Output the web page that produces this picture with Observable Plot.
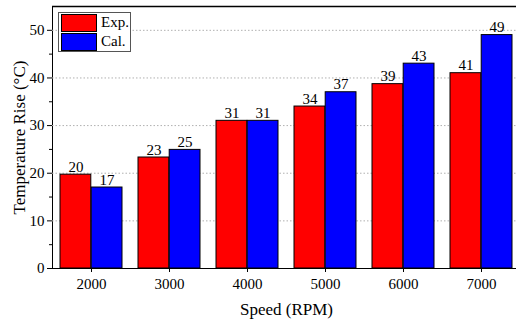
<!DOCTYPE html>
<html>
<head>
<meta charset="utf-8">
<script src="https://cdn.jsdelivr.net/npm/d3@7"></script>
<script src="https://cdn.jsdelivr.net/npm/@observablehq/plot@0.6"></script>
<style>
  html, body { margin: 0; padding: 0; background: #fff; }
  #wrap { position: relative; width: 516px; height: 322px; font-family: "Liberation Serif", "Times New Roman", serif; }
  #legend { position: absolute; left: 58px; top: 12px; width: 73px; height: 40px; border: 1px solid #555; background: #fff; box-sizing: border-box; }
  .row { position: absolute; left: 2px; height: 18px; width: 70px; }
  .sw { position: absolute; left: 0; top: 0; width: 36px; height: 18px; border: 1px solid #000; box-sizing: border-box; }
  .lb { position: absolute; left: 40px; top: -1px; font-size: 15px; line-height: 18px; color: #000; }
</style>
</head>
<body>
<div id="wrap">
  <div id="chart"></div>
  <div id="legend"></div>
</div>
<script>
const speeds = ["2000", "3000", "4000", "5000", "6000", "7000"];
const expValues = [19.7, 23.3, 31.0, 34.0, 38.7, 41.0];
const calValues = [17.0, 24.9, 31.0, 37.0, 43.0, 49.0];
const seriesNames = ["Exp.", "Cal."];
const seriesColors = ["#ff0000", "#0000ff"];
const yTicks = [0, 10, 20, 30, 40, 50];
const yMinorTicks = [5, 15, 25, 35, 45];

const expData = speeds.map((s, i) => ({speed: s, value: expValues[i]}));
const calData = speeds.map((s, i) => ({speed: s, value: calValues[i]}));

const W = 516, H = 322, ML = 52, MT = 6, MB = 54, MR = 0;
const step = (520 - ML) / 6;
const bw = step * 0.8;
const half = bw / 2;
const fmt = d3.format(".0f");

const chart = Plot.plot({
  width: W, height: H,
  marginLeft: ML, marginRight: MR, marginTop: MT, marginBottom: MB,
  style: {fontFamily: '"Liberation Serif", "Times New Roman", serif', fontSize: "15px", color: "#000", background: "#fff", overflow: "visible"},
  x: {domain: speeds, range: [ML, 520], paddingInner: 0.2, paddingOuter: 0.1, label: null, tickSize: 4, tickPadding: 6, line: true},
  y: {domain: [0, 55], ticks: yTicks, label: null, tickSize: 5, tickPadding: 3, line: true},
  marks: [
    Plot.ruleY(yTicks.slice(1), {stroke: "#b0b0b0", strokeWidth: 1, strokeDasharray: "1.5,2"}),
    Plot.barY(expData, {x: "speed", y: "value", fill: seriesColors[0], stroke: "#000", strokeWidth: 1, insetRight: half}),
    Plot.barY(calData, {x: "speed", y: "value", fill: seriesColors[1], stroke: "#000", strokeWidth: 1, insetLeft: half}),
    Plot.text(expData, {x: "speed", y: "value", text: d => fmt(d.value), dx: -half / 2, dy: -3, lineAnchor: "bottom", fontSize: 15, fill: "#000"}),
    Plot.text(calData, {x: "speed", y: "value", text: d => fmt(d.value), dx: half / 2, dy: -3, lineAnchor: "bottom", fontSize: 15, fill: "#000"}),
    Plot.ruleY(yMinorTicks, {stroke: "#000", strokeWidth: 1, insetLeft: -3, insetRight: W - ML - MR}),
    Plot.ruleY([55], {stroke: "#000", strokeWidth: 1.3}),
    Plot.text(["Speed (RPM)"], {frameAnchor: "bottom", textAnchor: "middle", lineAnchor: "middle", dx: 2, dy: 41, fontSize: 17, fill: "#000"}),
    Plot.text(["Temperature Rise (°C)"], {frameAnchor: "left", textAnchor: "middle", lineAnchor: "middle", rotate: -90, dx: -33, fontSize: 17, fill: "#000"})
  ]
});
document.getElementById("chart").appendChild(chart);

const legend = document.getElementById("legend");
seriesNames.forEach((name, i) => {
  const row = document.createElement("div");
  row.className = "row";
  row.style.top = (1 + i * 19) + "px";
  const sw = document.createElement("div");
  sw.className = "sw";
  sw.style.background = seriesColors[i];
  const lb = document.createElement("div");
  lb.className = "lb";
  lb.textContent = name;
  row.appendChild(sw);
  row.appendChild(lb);
  legend.appendChild(row);
});
</script>
</body>
</html>
